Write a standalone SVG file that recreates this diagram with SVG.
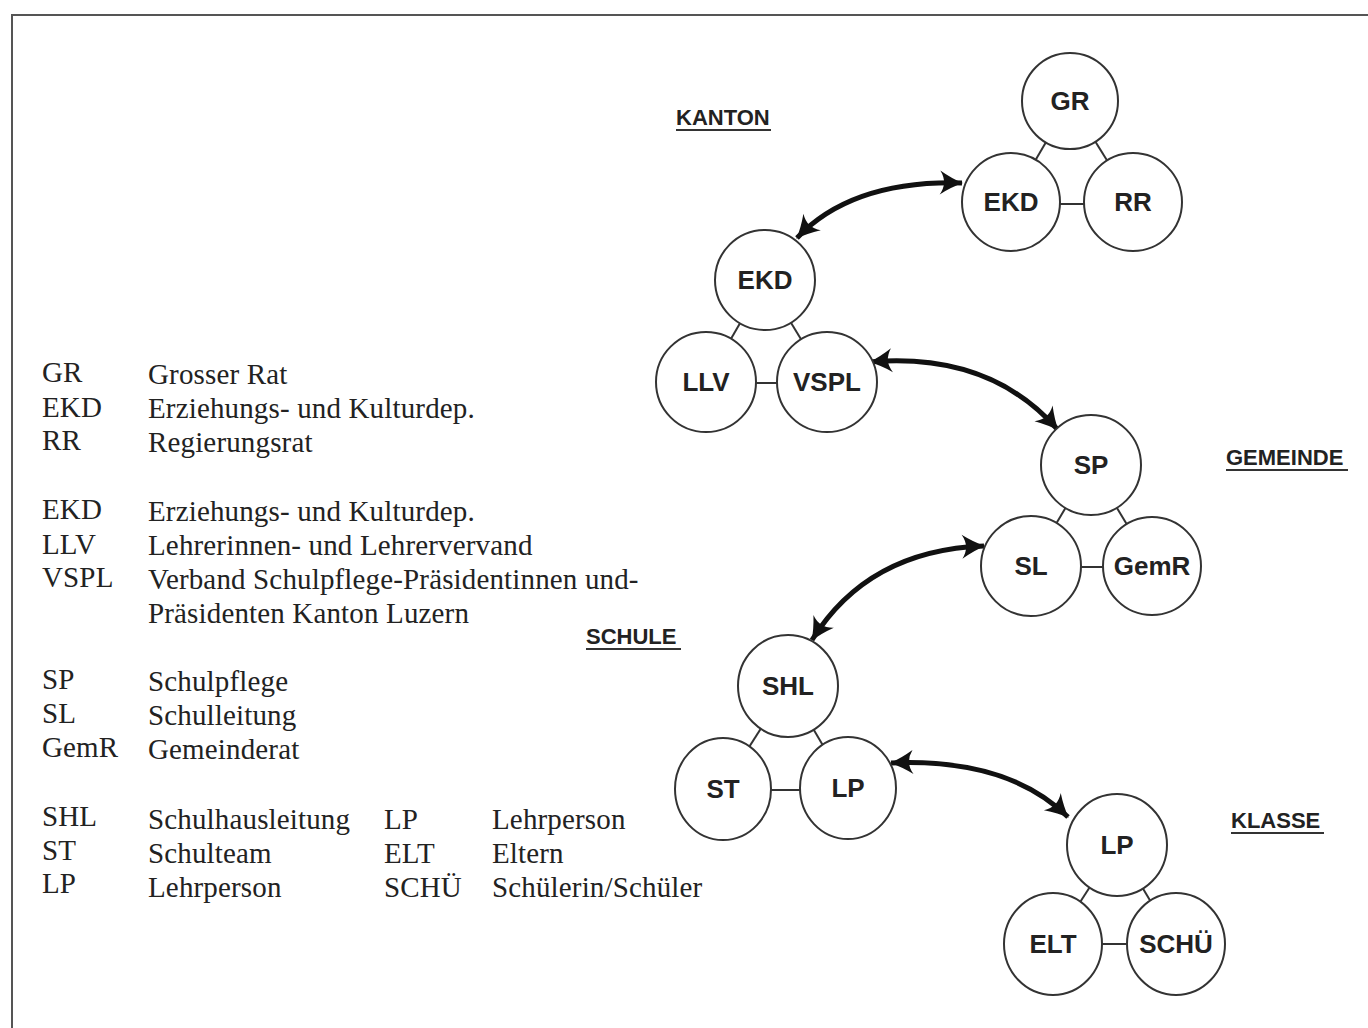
<svg xmlns="http://www.w3.org/2000/svg" width="1368" height="1028" viewBox="0 0 1368 1028">
<style>
.n{fill:#fff;stroke:#333;stroke-width:2}
.nt{font-family:"Liberation Sans",Arial,sans-serif;font-weight:bold;font-size:26px;fill:#222;text-anchor:middle}
.tl{stroke:#333;stroke-width:2;fill:none}
.ar{stroke:#111;stroke-width:5;fill:none;marker-start:url(#ah);marker-end:url(#ah)}
.lg{font-family:"Liberation Serif","Times New Roman",serif;font-size:29px;letter-spacing:0.15px;fill:#222}
.sec{font-family:"Liberation Sans",Arial,sans-serif;font-weight:bold;font-size:22px;fill:#222}
.ul{stroke:#333;stroke-width:2}
</style>
<defs>
<marker id="ah" markerUnits="userSpaceOnUse" markerWidth="28" markerHeight="28" viewBox="0 0 28 28" refX="25" refY="14" orient="auto-start-reverse">
<path d="M3,2 Q15,10 26,14 Q15,18 3,26 Q11,14 3,2 Z" fill="#111"/>
</marker>
</defs>
<rect width="1368" height="1028" fill="#fff"/>
<path d="M12,1028 L12,15 L1368,15" fill="none" stroke="#555" stroke-width="2"/>

<g id="connectors">
<line class="tl" x1="1070" y1="101" x2="1011" y2="202"/>
<line class="tl" x1="1070" y1="101" x2="1133" y2="202"/>
<line class="tl" x1="1011" y1="204" x2="1133" y2="204"/>
<line class="tl" x1="765" y1="280" x2="706" y2="382"/>
<line class="tl" x1="765" y1="280" x2="827" y2="382"/>
<line class="tl" x1="706" y1="383" x2="827" y2="383"/>
<line class="tl" x1="1091" y1="465" x2="1031" y2="566"/>
<line class="tl" x1="1091" y1="465" x2="1152" y2="566"/>
<line class="tl" x1="1031" y1="567" x2="1152" y2="567"/>
<line class="tl" x1="788" y1="686" x2="723" y2="788"/>
<line class="tl" x1="788" y1="686" x2="848" y2="788"/>
<line class="tl" x1="723" y1="790" x2="848" y2="790"/>
<line class="tl" x1="1117" y1="845" x2="1053" y2="944"/>
<line class="tl" x1="1117" y1="845" x2="1176" y2="944"/>
<line class="tl" x1="1053" y1="944" x2="1176" y2="944"/>
<path class="ar" d="M797,238 Q852,180 962,183"/>
<path class="ar" d="M870,362 Q990,352 1058,430"/>
<path class="ar" d="M984,546 Q868,550 812,640"/>
<path class="ar" d="M891,763 Q1008,758 1068,817"/>
</g>

<g id="node-GR"><circle class="n" cx="1070" cy="101" r="48"/><text class="nt" x="1070" y="110">GR</text></g>
<g id="node-EKD1"><circle class="n" cx="1011" cy="202" r="49"/><text class="nt" x="1011" y="211">EKD</text></g>
<g id="node-RR"><circle class="n" cx="1133" cy="202" r="49"/><text class="nt" x="1133" y="211">RR</text></g>

<g id="node-EKD2"><circle class="n" cx="765" cy="280" r="50"/><text class="nt" x="765" y="289">EKD</text></g>
<g id="node-LLV"><circle class="n" cx="706" cy="382" r="50"/><text class="nt" x="706" y="391">LLV</text></g>
<g id="node-VSPL"><circle class="n" cx="827" cy="382" r="50"/><text class="nt" x="827" y="391">VSPL</text></g>

<g id="node-SP"><circle class="n" cx="1091" cy="465" r="50"/><text class="nt" x="1091" y="474">SP</text></g>
<g id="node-SL"><circle class="n" cx="1031" cy="566" r="50"/><text class="nt" x="1031" y="575">SL</text></g>
<g id="node-GemR"><circle class="n" cx="1152" cy="566" r="49"/><text class="nt" x="1152" y="575">GemR</text></g>

<g id="node-SHL"><ellipse class="n" cx="788" cy="686" rx="50" ry="51"/><text class="nt" x="788" y="695">SHL</text></g>
<g id="node-ST"><ellipse class="n" cx="723" cy="789" rx="48" ry="51"/><text class="nt" x="723" y="798">ST</text></g>
<g id="node-LP1"><ellipse class="n" cx="848" cy="788" rx="48" ry="51"/><text class="nt" x="848" y="797">LP</text></g>

<g id="node-LP2"><ellipse class="n" cx="1117" cy="845" rx="50" ry="51"/><text class="nt" x="1117" y="854">LP</text></g>
<g id="node-ELT"><ellipse class="n" cx="1053" cy="944" rx="49" ry="51"/><text class="nt" x="1053" y="953">ELT</text></g>
<g id="node-SCHU"><ellipse class="n" cx="1176" cy="944" rx="49" ry="51"/><text class="nt" x="1176" y="953">SCHÜ</text></g>

<g id="section-labels">
<text class="sec" x="676" y="125">KANTON</text><line class="ul" x1="676" y1="130" x2="771" y2="130"/>
<text class="sec" x="1226" y="465">GEMEINDE</text><line class="ul" x1="1226" y1="470" x2="1348" y2="470"/>
<text class="sec" x="586" y="644">SCHULE</text><line class="ul" x1="586" y1="649" x2="681" y2="649"/>
<text class="sec" x="1231" y="828">KLASSE</text><line class="ul" x1="1231" y1="833" x2="1324" y2="833"/>
</g>

<g id="legend">
<text class="lg" x="42" y="382">GR</text><text class="lg" x="148" y="384">Grosser Rat</text>
<text class="lg" x="42" y="417">EKD</text><text class="lg" x="148" y="418">Erziehungs- und Kulturdep.</text>
<text class="lg" x="42" y="450">RR</text><text class="lg" x="148" y="452">Regierungsrat</text>
<text class="lg" x="42" y="519">EKD</text><text class="lg" x="148" y="521">Erziehungs- und Kulturdep.</text>
<text class="lg" x="42" y="554">LLV</text><text class="lg" x="148" y="555">Lehrerinnen- und Lehrervervand</text>
<text class="lg" x="42" y="587">VSPL</text><text class="lg" x="148" y="589">Verband Schulpflege-Präsidentinnen und-</text>
<text class="lg" x="148" y="623">Präsidenten Kanton Luzern</text>
<text class="lg" x="42" y="689">SP</text><text class="lg" x="148" y="691">Schulpflege</text>
<text class="lg" x="42" y="723">SL</text><text class="lg" x="148" y="725">Schulleitung</text>
<text class="lg" x="42" y="757">GemR</text><text class="lg" x="148" y="759">Gemeinderat</text>
<text class="lg" x="42" y="826">SHL</text><text class="lg" x="148" y="829">Schulhausleitung</text>
<text class="lg" x="42" y="860">ST</text><text class="lg" x="148" y="863">Schulteam</text>
<text class="lg" x="42" y="893">LP</text><text class="lg" x="148" y="897">Lehrperson</text>
<text class="lg" x="384" y="829">LP</text><text class="lg" x="492" y="829">Lehrperson</text>
<text class="lg" x="384" y="863">ELT</text><text class="lg" x="492" y="863">Eltern</text>
<text class="lg" x="384" y="897">SCHÜ</text><text class="lg" x="492" y="897">Schülerin/Schüler</text>
</g>
</svg>
